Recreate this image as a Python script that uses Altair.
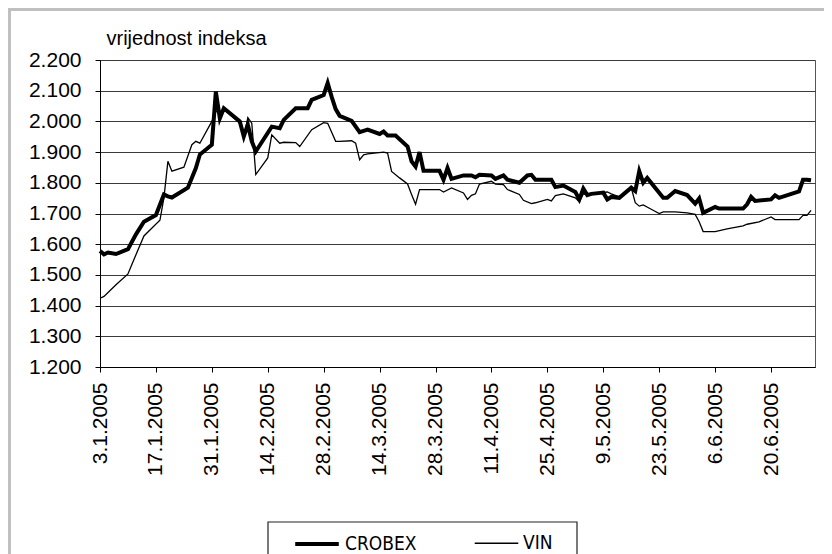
import altair as alt
import pandas as pd

series_names = ["CROBEX", "VIN"]

crobex_dates = [
    "2005-01-03", "2005-01-04", "2005-01-05", "2005-01-07", "2005-01-10", "2005-01-12",
    "2005-01-14", "2005-01-17", "2005-01-19", "2005-01-20", "2005-01-21", "2005-01-25",
    "2005-01-27", "2005-01-28", "2005-01-31", "2005-02-01", "2005-02-02", "2005-02-03",
    "2005-02-07", "2005-02-08", "2005-02-09", "2005-02-10", "2005-02-11", "2005-02-15",
    "2005-02-17", "2005-02-18", "2005-02-21", "2005-02-24", "2005-02-25", "2005-02-28",
    "2005-03-01", "2005-03-02", "2005-03-03", "2005-03-04", "2005-03-07", "2005-03-09",
    "2005-03-11", "2005-03-14", "2005-03-15", "2005-03-16", "2005-03-18", "2005-03-21",
    "2005-03-22", "2005-03-23", "2005-03-24", "2005-03-25", "2005-03-29", "2005-03-30",
    "2005-03-31", "2005-04-01", "2005-04-04", "2005-04-06", "2005-04-07", "2005-04-08",
    "2005-04-11", "2005-04-12", "2005-04-14", "2005-04-15", "2005-04-18", "2005-04-20",
    "2005-04-21", "2005-04-22", "2005-04-26", "2005-04-27", "2005-04-29", "2005-05-02",
    "2005-05-03", "2005-05-04", "2005-05-05", "2005-05-06", "2005-05-09", "2005-05-10",
    "2005-05-11", "2005-05-13", "2005-05-16", "2005-05-17", "2005-05-18", "2005-05-19",
    "2005-05-20", "2005-05-24", "2005-05-25", "2005-05-27", "2005-05-30", "2005-06-01",
    "2005-06-02", "2005-06-03", "2005-06-06", "2005-06-07", "2005-06-13", "2005-06-14",
    "2005-06-15", "2005-06-16", "2005-06-20", "2005-06-21", "2005-06-22", "2005-06-27",
    "2005-06-28", "2005-06-29", "2005-06-30",
]
crobex_values = [
    1578, 1567, 1573, 1568, 1584, 1632,
    1673, 1695, 1762, 1756, 1752, 1784,
    1848, 1892, 1924, 2097, 2010, 2043,
    2000, 1951, 1990, 1935, 1902, 1983,
    1978, 2005, 2043, 2043, 2070, 2086,
    2125, 2080, 2040, 2018, 2002, 1965,
    1973, 1959, 1967, 1954, 1954, 1918,
    1870, 1853, 1900, 1839, 1839, 1810,
    1848, 1813, 1824, 1824, 1818, 1826,
    1824, 1813, 1824, 1810, 1800, 1824,
    1826, 1810, 1810, 1786, 1791, 1770,
    1746, 1781, 1760, 1764, 1768, 1746,
    1754, 1751, 1784, 1773, 1838, 1800,
    1816, 1751, 1751, 1773, 1760, 1732,
    1749, 1702, 1721, 1716, 1716, 1730,
    1754, 1741, 1746, 1759, 1751, 1772,
    1810, 1810, 1808,
]

vin_dates = [
    "2005-01-03", "2005-01-04", "2005-01-07", "2005-01-10", "2005-01-11", "2005-01-14",
    "2005-01-18", "2005-01-19", "2005-01-20", "2005-01-21", "2005-01-24", "2005-01-26",
    "2005-01-27", "2005-01-28", "2005-01-31", "2005-02-01", "2005-02-02", "2005-02-03",
    "2005-02-07", "2005-02-08", "2005-02-09", "2005-02-10", "2005-02-11", "2005-02-14",
    "2005-02-15", "2005-02-17", "2005-02-18", "2005-02-21", "2005-02-22", "2005-02-25",
    "2005-02-28", "2005-03-01", "2005-03-03", "2005-03-04", "2005-03-07", "2005-03-08",
    "2005-03-09", "2005-03-10", "2005-03-11", "2005-03-15", "2005-03-16", "2005-03-17",
    "2005-03-19", "2005-03-21", "2005-03-22", "2005-03-23", "2005-03-24", "2005-03-29",
    "2005-03-30", "2005-04-01", "2005-04-04", "2005-04-05", "2005-04-06", "2005-04-07",
    "2005-04-08", "2005-04-11", "2005-04-12", "2005-04-14", "2005-04-15", "2005-04-18",
    "2005-04-19", "2005-04-21", "2005-04-22", "2005-04-25", "2005-04-26", "2005-04-27",
    "2005-04-29", "2005-05-02", "2005-05-03", "2005-05-04", "2005-05-05", "2005-05-06",
    "2005-05-10", "2005-05-11", "2005-05-13", "2005-05-16", "2005-05-17", "2005-05-18",
    "2005-05-19", "2005-05-21", "2005-05-23", "2005-05-24", "2005-05-27", "2005-05-30",
    "2005-06-01", "2005-06-02", "2005-06-03", "2005-06-06", "2005-06-09", "2005-06-13",
    "2005-06-14", "2005-06-17", "2005-06-20", "2005-06-21", "2005-06-27", "2005-06-28",
    "2005-06-29", "2005-06-30",
]
vin_values = [
    1424, 1430, 1468, 1503, 1535, 1627,
    1678, 1751, 1870, 1838, 1851, 1924,
    1935, 1929, 2000, 2035, 2020, 2040,
    1994, 1945, 2012, 1994, 1827, 1881,
    1956, 1929, 1932, 1931, 1918, 1973,
    1996, 1994, 1935, 1935, 1937, 1929,
    1875, 1891, 1894, 1900, 1897, 1837,
    1816, 1796, 1762, 1730, 1778, 1778,
    1770, 1783, 1767, 1746, 1759, 1764,
    1796, 1805, 1796, 1794, 1778, 1762,
    1743, 1732, 1735, 1746, 1741, 1758,
    1764, 1751, 1738, 1764, 1760, 1764,
    1770, 1764, 1754, 1784, 1735, 1724,
    1728, 1714, 1700, 1705, 1705, 1702,
    1697, 1673, 1641, 1641, 1650, 1660,
    1665, 1673, 1689, 1680, 1680, 1694,
    1694, 1710,
]

x_tick_dates = [
    (1, 3), (1, 17), (1, 31), (2, 14), (2, 28), (3, 14), (3, 28),
    (4, 11), (4, 25), (5, 9), (5, 23), (6, 6), (6, 20),
]
x_domain = [(1, 3), (7, 1)]
y_ticks = [1200, 1300, 1400, 1500, 1600, 1700, 1800, 1900, 2000, 2100, 2200]

df = pd.concat([
    pd.DataFrame({"date": crobex_dates, "value": crobex_values, "series": series_names[0]}),
    pd.DataFrame({"date": vin_dates, "value": vin_values, "series": series_names[1]}),
], ignore_index=True)


def dt(md):
    return alt.DateTime(year=2005, month=md[0], date=md[1], utc=True)


lines = alt.Chart(df).mark_line(color="black", interpolate="linear").encode(
    x=alt.X(
        "date:T",
        scale=alt.Scale(type="utc", domain=[dt(d) for d in x_domain], nice=False),
        axis=alt.Axis(
            values=[dt(d) for d in x_tick_dates],
            labelExpr="utcFormat(datum.value, '%-d.%-m.%Y')",
            labelAngle=270,
            labelAlign="right",
            labelBaseline="middle",
            tickSize=5,
            labelPadding=10,
            grid=False,
            title=None,
            labelOverlap=False,
        ),
    ),
    y=alt.Y(
        "value:Q",
        scale=alt.Scale(domain=[1200, 2200], nice=False, zero=False),
        axis=alt.Axis(
            values=y_ticks,
            labelExpr="replace(format(datum.value, ','), ',', '.')",
            tickSize=5,
            labelPadding=14,
            grid=True,
            gridColor="#3a3a3a",
            gridWidth=1,
            title="vrijednost indeksa",
            titleAngle=0,
            titleX=6,
            titleY=-16,
            titleAlign="left",
            titleBaseline="alphabetic",
            titleFont="Liberation Sans",
            titleFontSize=20,
            titleFontWeight="normal",
            titleColor="black",
        ),
    ),
    strokeWidth=alt.StrokeWidth(
        "series:N",
        scale=alt.Scale(domain=series_names, range=[4, 1.3]),
        legend=alt.Legend(
            title=None,
            orient="none",
            legendX=193,
            legendY=460,
            direction="horizontal",
            symbolType="stroke",
            symbolSize=1900,
            symbolStrokeColor="black",
            labelFont="DejaVu Sans Condensed, Liberation Sans",
            labelFontSize=19,
            labelColor="black",
            labelOffset=4,
            columnPadding=55,
            padding=0,
        ),
    ),
    detail="series:N",
)

frame_df = pd.DataFrame({"k": [0]})
outer_frame = alt.Chart(frame_df).mark_rect(
    fill=None, stroke="#c0c0c0", strokeWidth=3
).encode(
    x=alt.value(-90.5), x2=alt.value(760), y=alt.value(-50.5), y2=alt.value(600)
)
legend_box = alt.Chart(frame_df).mark_rect(
    fill="white", stroke="#222222", strokeWidth=1.2
).encode(
    x=alt.value(168), x2=alt.value(477), y=alt.value(462), y2=alt.value(560)
)

chart = alt.layer(outer_frame, legend_box, lines).properties(
    width=715,
    height=307,
    autosize=alt.AutoSizeParams(type="none"),
    padding={"left": 92, "top": 52, "right": 9, "bottom": 187},
    background="white",
).configure_view(
    stroke="#555555", strokeWidth=1
).configure_axis(
    domainColor="black",
    tickColor="black",
    labelColor="black",
    labelFont="Liberation Sans",
    labelFontSize=21,
)

chart.save("out.html", embed_options={"renderer": "svg", "actions": False})
